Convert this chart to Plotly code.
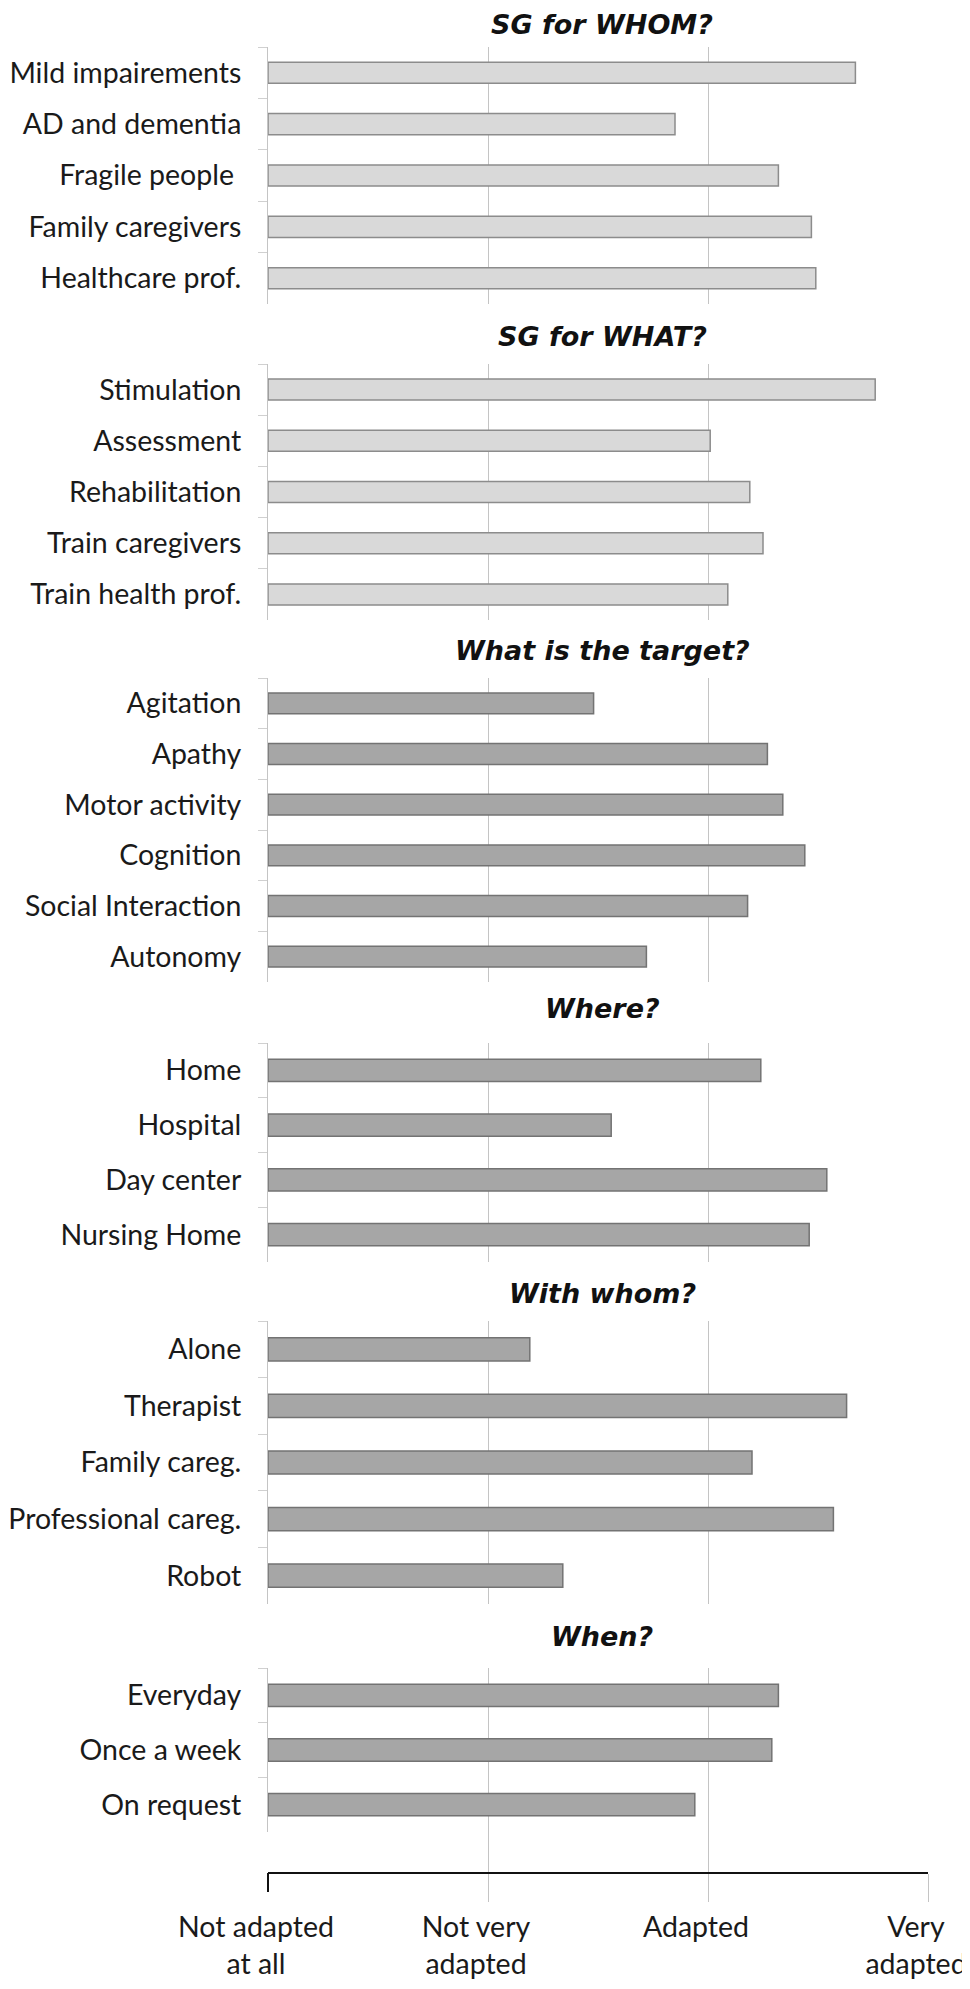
import plotly.graph_objects as go

# page size and the 8px body margin of the html page
PAGE_W, PAGE_H = 970, 1989
OFF = 8
W, H = PAGE_W - OFF, PAGE_H - OFF

# data (0 = not adapted at all ... 3 = very adapted)
whom_labels = ["Mild impairements", "AD and dementia", "Fragile people ", "Family caregivers", "Healthcare prof."]
whom_values = [2.67, 1.85, 2.32, 2.47, 2.49]

what_labels = ["Stimulation", "Assessment", "Rehabilitation", "Train caregivers", "Train health prof."]
what_values = [2.76, 2.01, 2.19, 2.25, 2.09]

target_labels = ["Agitation", "Apathy", "Motor activity", "Cognition", "Social Interaction", "Autonomy"]
target_values = [1.48, 2.27, 2.34, 2.44, 2.18, 1.72]

where_labels = ["Home", "Hospital", "Day center", "Nursing Home"]
where_values = [2.24, 1.56, 2.54, 2.46]

with_labels = ["Alone", "Therapist", "Family careg.", "Professional careg.", "Robot"]
with_values = [1.19, 2.63, 2.20, 2.57, 1.34]

when_labels = ["Everyday", "Once a week", "On request"]
when_values = [2.32, 2.29, 1.94]

scale_values = [0, 1, 2, 3]
scale_labels = ["Not adapted<br>at all", "Not very<br>adapted", "Adapted", "Very<br>adapted"]

LIGHT = ("#d9d9d9", "#8c8c8c")
DARK = ("#a6a6a6", "#737373")

panels = [
    ("SG for WHOM?", whom_labels, whom_values, LIGHT),
    ("SG for WHAT?", what_labels, what_values, LIGHT),
    ("What is the target?", target_labels, target_values, DARK),
    ("Where?", where_labels, where_values, DARK),
    ("With whom?", with_labels, with_values, DARK),
    ("When?", when_labels, when_values, DARK),
]

# page-pixel bands of each panel (top, bottom) and title centres
bands = [(47, 304), (364, 620), (678, 982), (1043, 1262), (1321, 1604), (1668, 1832)]
title_y = [25, 336, 651, 1008, 1293, 1636]
X0, X1 = 268, 928

label_font = dict(family="Lato", size=28.5, color="#1a1a1a")
title_font = dict(family="DejaVu Sans", size=27, color="#111111", style="italic", weight="bold")
grid_col = "#c4c4c4"


def px(x):
    return (x - OFF) / W


def py(y):
    return 1 - (y - OFF) / H


def ydom(top, bottom):
    return [py(bottom), py(top)]


fig = go.Figure()
layout = {}
annotations = []

for i, (title, labels, values, (fill, edge)) in enumerate(panels):
    n = i + 1
    fig.add_trace(go.Bar(
        y=labels, x=values, orientation="h",
        xaxis="x%d" % n, yaxis="y%d" % n,
        width=0.41,
        marker=dict(color=fill, line=dict(color=edge, width=1.5)),
        showlegend=False, hoverinfo="x+y",
    ))
    layout["xaxis%d" % n] = dict(
        domain=[px(X0), px(X1)], range=[0, 3], tickvals=scale_values,
        showticklabels=False, showgrid=True, gridcolor=grid_col, gridwidth=1,
        zeroline=False, showline=False, anchor="y%d" % n, automargin=False,
    )
    layout["yaxis%d" % n] = dict(
        domain=ydom(*bands[i]), anchor="x%d" % n, type="category",
        autorange="reversed", showline=True, linecolor=grid_col, linewidth=1,
        ticks="outside", tickson="boundaries", ticklen=9, tickcolor="#d0d0d0",
        tickfont=label_font, ticklabelstandoff=20, ticklabeloverflow="allow",
        showgrid=False, automargin=False,
    )
    annotations.append(dict(
        text=title, x=px(602), y=py(title_y[i]), xref="paper", yref="paper",
        xanchor="center", yanchor="middle", showarrow=False, font=title_font,
    ))

# bottom scale axis (black line, grid stubs, labels)
fig.add_trace(go.Scatter(x=[], y=[], xaxis="x7", yaxis="y7", showlegend=False))
layout["xaxis7"] = dict(
    domain=[px(X0), px(X1)], range=[0, 3], tickvals=scale_values, ticktext=scale_labels,
    showgrid=False, zeroline=False,
    showline=True, linecolor="#111111", linewidth=2,
    ticks="", ticklabelstandoff=29, ticklabelshift=-12, ticklabeloverflow="allow",
    minor=dict(tickvals=scale_values[1:], showgrid=True, gridcolor=grid_col,
               ticks="outside", ticklen=28, tickcolor=grid_col),
    tickfont=dict(family="Lato", size=28.5, color="#1a1a1a"),
    anchor="y7", automargin=False,
)
layout["yaxis7"] = dict(domain=ydom(1832, 1872), range=[0, 1], visible=False,
                        anchor="x7", automargin=False)
# black end tick at the origin of the scale
layout["xaxis8"] = dict(
    overlaying="x7", anchor="y7", range=[0, 3], tickvals=[0],
    showticklabels=False, showgrid=False, zeroline=False, showline=False,
    ticks="outside", ticklen=19, tickwidth=2, tickcolor="#111111", automargin=False,
)
fig.add_trace(go.Scatter(x=[], y=[], xaxis="x8", yaxis="y7", showlegend=False))

fig.update_layout(
    width=W, height=H,
    margin=dict(l=0, r=0, t=0, b=0, autoexpand=False),
    paper_bgcolor="white", plot_bgcolor="white",
    annotations=annotations,
    **layout,
)

fig.write_html("out.html")
